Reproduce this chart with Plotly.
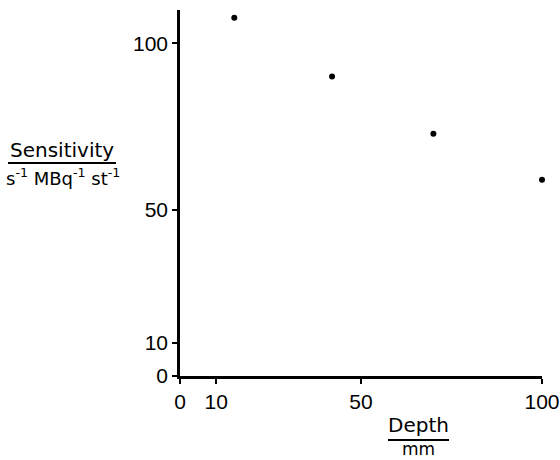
import plotly.graph_objects as go

# Measured sensitivity versus source depth
depth_mm = [15, 42, 70, 100]
sensitivity = [107.7, 90.0, 72.8, 59.0]

x_ticks = [0, 10, 50, 100]
y_ticks = [0, 10, 50, 100]

W, H = 560, 460
L, R, T, B = 180, 18, 10, 84
pw, ph = W - L - R, H - T - B


def px(xp):
    return (xp - L) / pw


def py(yp):
    return (H - B - yp) / ph


tick_font = dict(family="Liberation Sans, Arial, sans-serif", size=21, color="black")
title_font = dict(family="DejaVu Sans, sans-serif", size=20, color="black")

fig = go.Figure(
    go.Scatter(x=depth_mm, y=sensitivity, mode="markers",
               marker=dict(color="black", size=6), cliponaxis=False)
)

axis_common = dict(showgrid=False, zeroline=False, showline=True, linecolor="black",
                   linewidth=2.5, ticks="outside", ticklen=5, tickwidth=2,
                   tickcolor="black", tickfont=tick_font, ticklabeloverflow="allow",
                   automargin=False)

fig.update_xaxes(range=[0, 100], tickvals=x_ticks, ticktext=[str(v) for v in x_ticks],
                 **axis_common)
fig.update_yaxes(range=[0, 110], tickvals=y_ticks, ticktext=[str(v) for v in y_ticks],
                 **axis_common)

annotations = [
    dict(text="Sensitivity", x=px(62), y=py(150), xref="paper", yref="paper",
         showarrow=False, font=title_font, xanchor="center", yanchor="middle"),
    dict(text="s<sup>-1</sup> MBq<sup>-1</sup> st<sup>-1</sup>", x=px(63), y=py(177),
         xref="paper", yref="paper", showarrow=False, font=dict(title_font, size=18),
         xanchor="center", yanchor="middle"),
    dict(text="Depth", x=px(418), y=py(425), xref="paper", yref="paper",
         showarrow=False, font=title_font, xanchor="center", yanchor="middle"),
    dict(text="mm", x=px(418), y=py(449), xref="paper", yref="paper",
         showarrow=False, font=dict(title_font, size=17), xanchor="center", yanchor="middle"),
]

shapes = [
    dict(type="line", xref="paper", yref="paper", x0=px(8), x1=px(116), y0=py(163), y1=py(163),
         line=dict(color="black", width=2)),
    dict(type="line", xref="paper", yref="paper", x0=px(388), x1=px(449), y0=py(440), y1=py(440),
         line=dict(color="black", width=2)),
]

fig.update_layout(
    width=W, height=H,
    margin=dict(l=L, r=R, t=T, b=B),
    paper_bgcolor="white", plot_bgcolor="white",
    showlegend=False,
    annotations=annotations, shapes=shapes,
)

fig.write_html("out.html")
